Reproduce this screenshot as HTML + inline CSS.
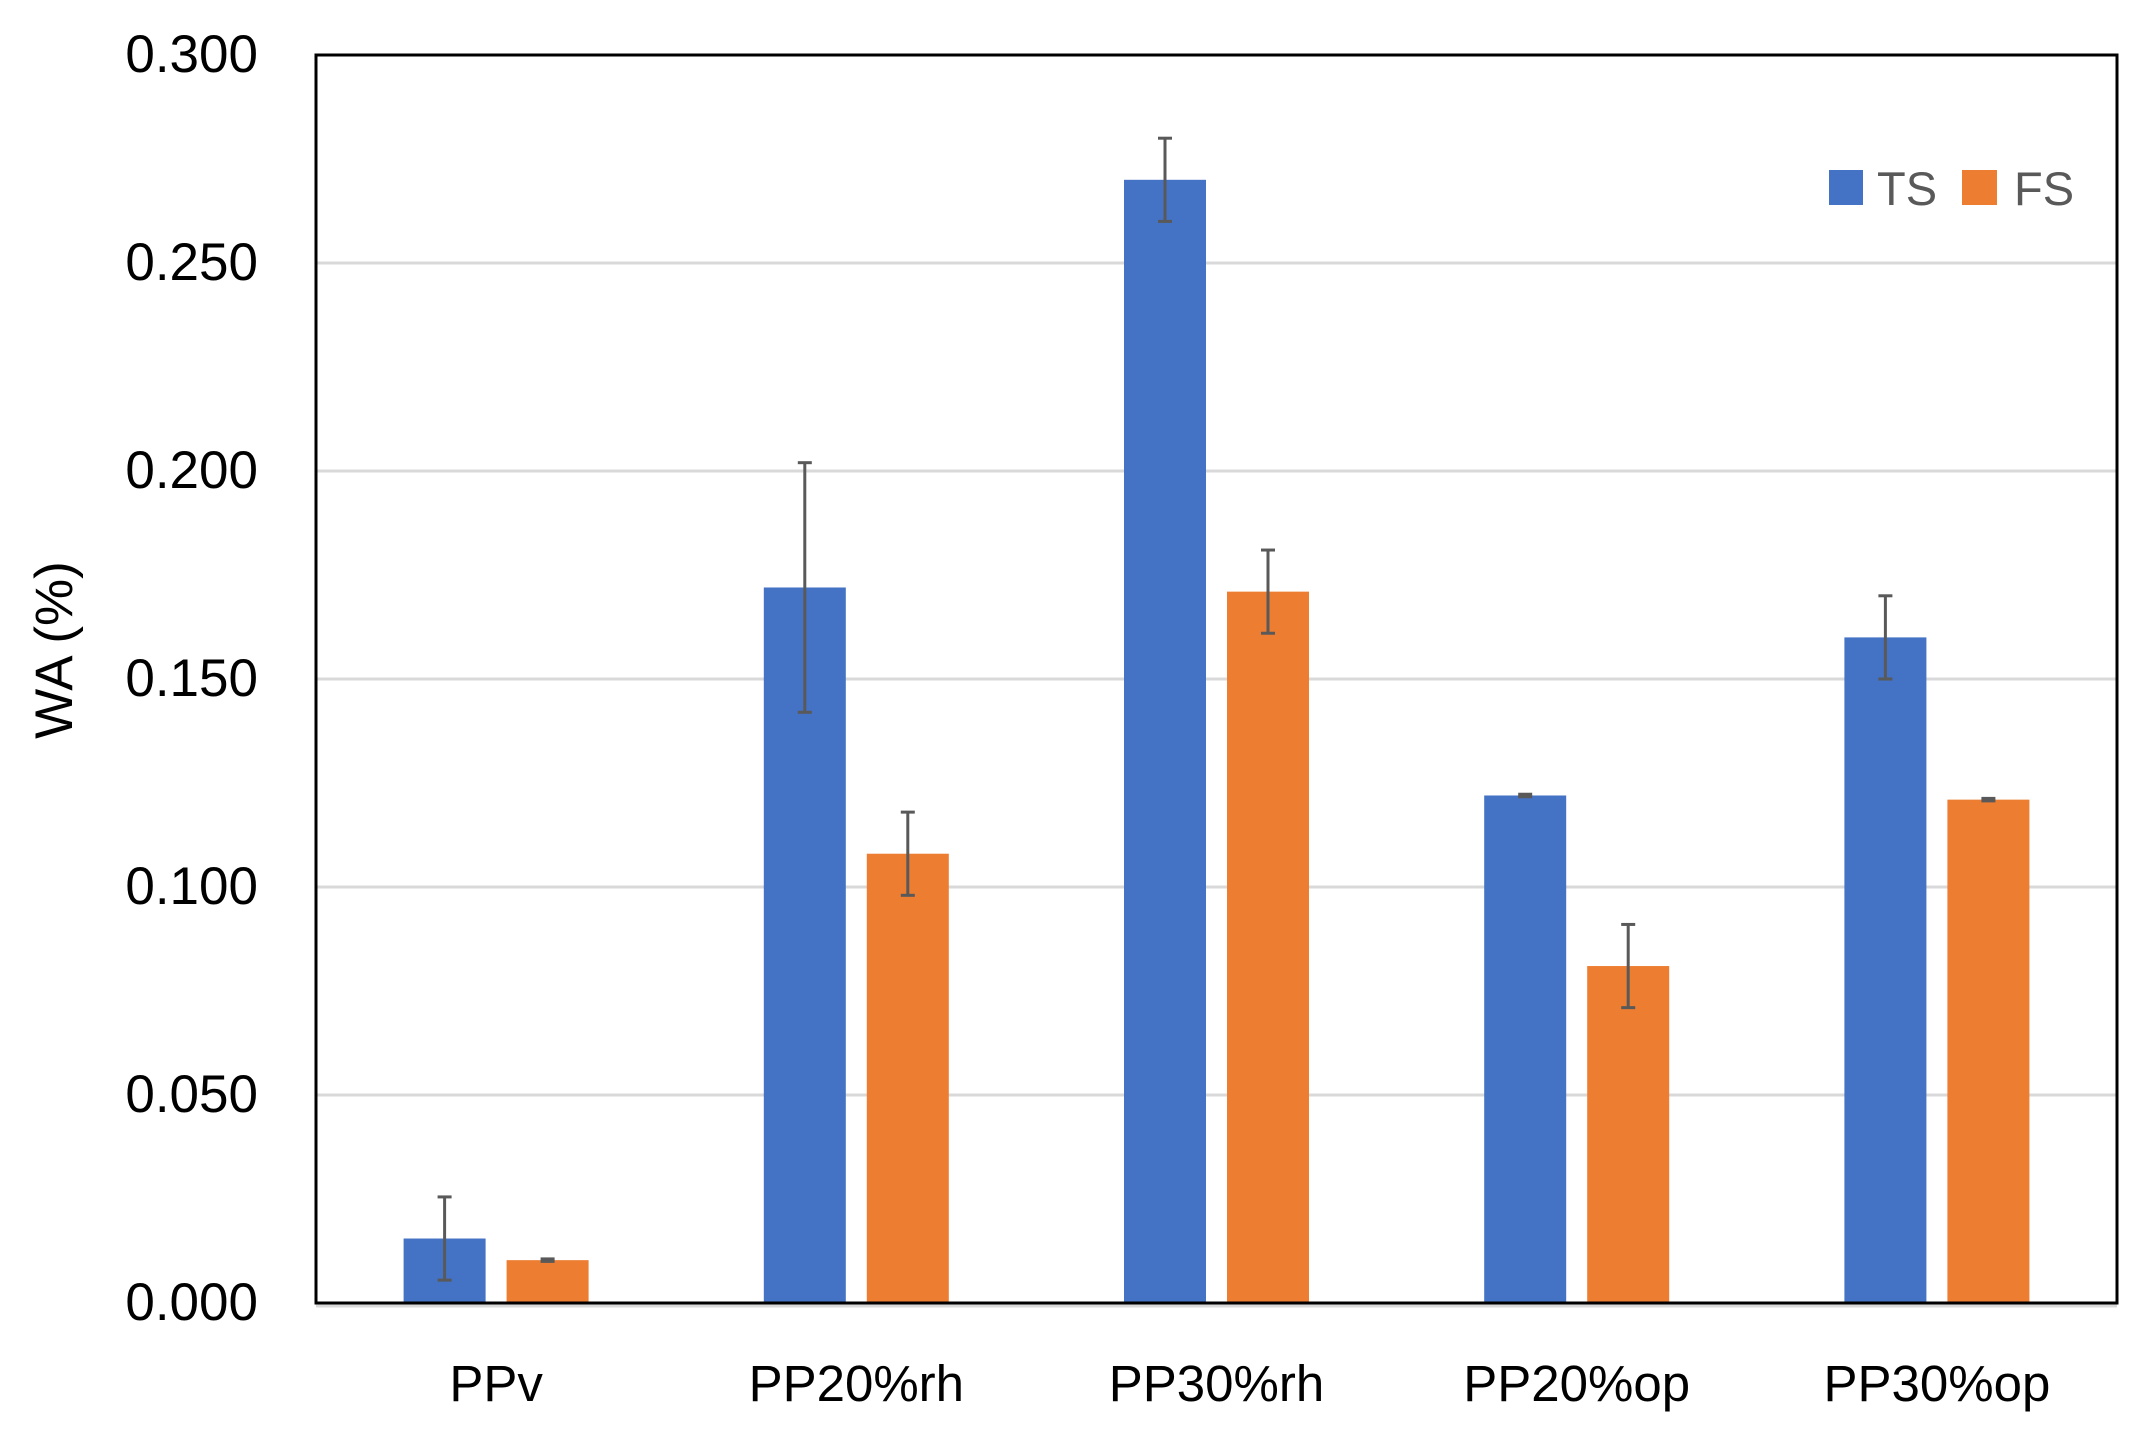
<!DOCTYPE html>
<html><head><meta charset="utf-8"><style>
html,body{margin:0;padding:0;background:#fff;}
svg{display:block;font-family:"Liberation Sans",sans-serif;}
</style></head><body>
<svg id="chart" width="2145" height="1451"></svg>
<script>
const categories=["PPv","PP20%rh","PP30%rh","PP20%op","PP30%op"];
const tsValues=[0.0155,0.172,0.270,0.122,0.160];
const tsErrors=[0.010,0.030,0.010,0.0003,0.010];
const fsValues=[0.0103,0.108,0.171,0.081,0.121];
const fsErrors=[0.0003,0.010,0.010,0.010,0.0003];
const yTicks=[0,0.05,0.1,0.15,0.2,0.25,0.3];
const yTickLabels=["0.000","0.050","0.100","0.150","0.200","0.250","0.300"];

const NS="http://www.w3.org/2000/svg";
const svg=document.getElementById('chart');
const L=316,R=2117,T=55,B=1303,yMax=0.3;
const y=v=>B-(v/yMax)*(B-T);
const band=(R-L)/categories.length;
const xc=i=>L+band*(i+0.5);
const barW=82,off=51.5;
function el(tag,a,parent){const e=document.createElementNS(NS,tag);for(const k in a)e.setAttribute(k,a[k]);(parent||svg).appendChild(e);return e;}

yTicks.forEach((t,i)=>{
  if(t>0&&t<yMax){const g=el('line',{x1:L,x2:R,y1:y(t),y2:y(t),stroke:'#d9d9d9','stroke-width':3});
  
  }
  const tx=el('text',{x:258,y:y(t)+17,'text-anchor':'end','font-size':53,fill:'#000'});
  tx.textContent=yTickLabels[i];
  
  
});

function drawSeries(vals,errs,dx,color,name){
  vals.forEach((v,i)=>{
    const cx=xc(i)+dx;
    const r=el('rect',{x:cx-barW/2,y:y(v),width:barW,height:B-y(v),fill:color});
    
    
    const e=errs[i];
    const g=el('g',{stroke:'#595959','stroke-width':3});
    
    
    el('line',{x1:cx,x2:cx,y1:y(v+e),y2:y(v-e)},g);
    el('line',{x1:cx-7,x2:cx+7,y1:y(v+e),y2:y(v+e)},g);
    el('line',{x1:cx-7,x2:cx+7,y1:y(v-e),y2:y(v-e)},g);
  });
}
drawSeries(tsValues,tsErrors,-off,'#4472c4','ts');
drawSeries(fsValues,fsErrors,off,'#ed7d31','fs');

const fr=el('rect',{x:L,y:T,width:R-L,height:B-T,fill:'none',stroke:'#000','stroke-width':3});


const bl=el('line',{x1:L,x2:R,y1:B+3,y2:B+3,stroke:'#d9d9d9','stroke-width':3});



categories.forEach((c,i)=>{
  const t=el('text',{x:xc(i),y:1401,'text-anchor':'middle','font-size':51,fill:'#000'});
  t.textContent=c;
  
  
});

const yt=el('text',{x:0,y:0,'text-anchor':'middle','font-size':53,fill:'#000',transform:'translate(72,650) rotate(-90)'});
yt.textContent='WA (%)';



const lg=el('g',{});


const s1=el('rect',{x:1829,y:170,width:34,height:35,fill:'#4472c4'},lg);


const t1=el('text',{x:1877,y:205,'font-size':47,fill:'#595959'},lg);
t1.textContent='TS';


const s2=el('rect',{x:1962,y:170,width:35,height:35,fill:'#ed7d31'},lg);


const t2=el('text',{x:2014,y:205,'font-size':47,fill:'#595959'},lg);
t2.textContent='FS';


</script>
</body></html>
